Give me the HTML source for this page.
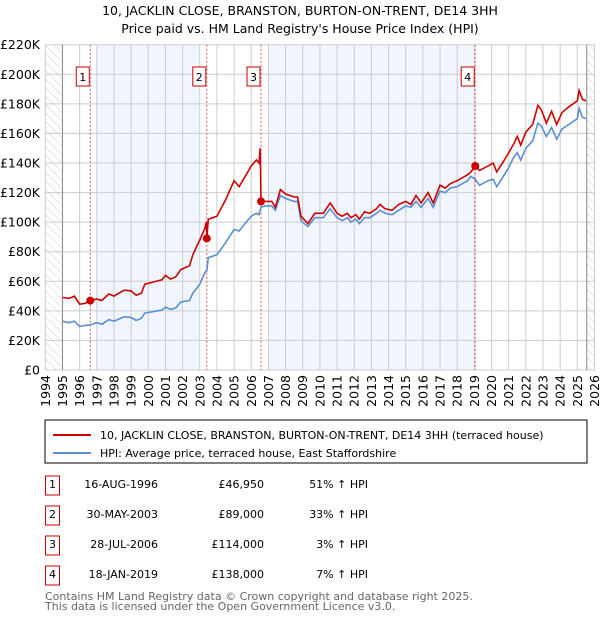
<!DOCTYPE html>
<html><head><meta charset="utf-8"><style>
body{margin:0;background:#fff;font-family:"Liberation Sans","DejaVu Sans",sans-serif;}
#wrap{position:relative;width:600px;height:620px;overflow:hidden;}
</style></head><body>
<div id="wrap">
<svg id="svg" width="600" height="620" xmlns="http://www.w3.org/2000/svg" font-family="DejaVu Sans, Liberation Sans, sans-serif">
<defs>
<pattern id="hatch" width="6" height="6" patternUnits="userSpaceOnUse" patternTransform="rotate(-45)">
<line x1="0" y1="0" x2="0" y2="6" stroke="#ccc" stroke-width="1"/></pattern>
<clipPath id="clip"><rect x="45" y="44" width="550" height="326"/></clipPath>
</defs>
<text x="300" y="15" text-anchor="middle" font-size="12.5" fill="#000">10, JACKLIN CLOSE, BRANSTON, BURTON-ON-TRENT, DE14 3HH</text>
<text x="300" y="33" text-anchor="middle" font-size="12.5" fill="#000">Price paid vs. HM Land Registry's House Price Index (HPI)</text>
<g id="plot"></g>
<g id="legend">
<rect x="45" y="420" width="542" height="43" fill="#fff" stroke="#000" stroke-width="1"/>
<line x1="53" y1="435" x2="91" y2="435" stroke="#cc0000" stroke-width="2"/>
<text x="100" y="439" font-size="11">10, JACKLIN CLOSE, BRANSTON, BURTON-ON-TRENT, DE14 3HH (terraced house)</text>
<line x1="53" y1="453" x2="91" y2="453" stroke="#5b8fd1" stroke-width="2"/>
<text x="100" y="457" font-size="11">HPI: Average price, terraced house, East Staffordshire</text>
</g>
<g id="table"></g>
<text x="45" y="600" font-size="11" fill="#666">Contains HM Land Registry data © Crown copyright and database right 2025.</text>
<text x="45" y="610" font-size="11" fill="#666">This data is licensed under the Open Government Licence v3.0.</text>
</svg>
</div>
<script>
const dates=[1995.0,1995.4,1995.7,1996.0,1996.3,1996.62,1997.0,1997.3,1997.7,1998.0,1998.3,1998.6,1999.0,1999.3,1999.6,1999.8,2000.3,2000.8,2001.0,2001.3,2001.6,2001.9,2002.4,2002.6,2003.0,2003.3,2003.38,2003.41,2003.5,2004.0,2004.5,2005.0,2005.3,2005.7,2006.0,2006.3,2006.45,2006.52,2006.57,2006.8,2007.2,2007.4,2007.7,2008.0,2008.5,2008.7,2008.9,2009.3,2009.7,2010.2,2010.6,2011.0,2011.3,2011.6,2011.8,2012.1,2012.3,2012.6,2012.9,2013.3,2013.5,2013.8,2014.2,2014.6,2015.0,2015.3,2015.6,2015.9,2016.3,2016.6,2017.0,2017.3,2017.6,2018.0,2018.3,2018.6,2018.8,2019.05,2019.3,2019.8,2020.1,2020.3,2020.7,2021.0,2021.3,2021.5,2021.7,2022.0,2022.4,2022.7,2022.9,2023.2,2023.5,2023.8,2024.1,2024.5,2025.0,2025.1,2025.3,2025.5];
const hpiValues=[33,32,33,29.5,30,30.5,32,31,34,33,34.5,36,35.5,33.5,35,38.5,39.5,40.5,42.5,41,42,46,47,52,58,66,67,67,76,78,86,95,94,100,104,106,105,108,110,111,111,108,118,116,114,114,101,97,103,103,109,103,101,103,100,102,99,103,103,106,108,106,105,108,111,110,114,110,116,110,121,120,123,124,126,128,131,129,125,128,129,124,131,137,144,147,142,150,155,167,165,158,164,156,163,166,170,177,171,170];
const priceValues=[49,48.5,50,44.5,45,46.95,48,47,51.5,50,52,54,53.5,50.5,52,58,59.5,61,64,61.5,63,68,70.5,78,88,96,100,89,102,104,115,128,124,132,138,142,140,150,114,114,114,110,122,119,117,117,104,99,106,106,113,106,104,106,103,105,102,107,106,109,112,109,108,112,114,112,118,113,120,113,125,123,126,128,130,132,134,138,135,138,140,134,141,147,153,158,152,161,166,179,176,167,175,166,174,178,182,189,183,182];
const saleDates=[1996.62,2003.41,2006.57,2019.05];
const salePrices=[46.95,89,114,138];
const saleLabels=["1","2","3","4"];
const saleDateText=["16-AUG-1996","30-MAY-2003","28-JUL-2006","18-JAN-2019"];
const salePriceText=["£46,950","£89,000","£114,000","£138,000"];
const saleHpiText=["51% ↑ HPI","33% ↑ HPI","3% ↑ HPI","7% ↑ HPI"];
const yTicks=[0,20,40,60,80,100,120,140,160,180,200,220];
const yTickLabels=["£0","£20K","£40K","£60K","£80K","£100K","£120K","£140K","£160K","£180K","£200K","£220K"];
const xYears=[1994,1995,1996,1997,1998,1999,2000,2001,2002,2003,2004,2005,2006,2007,2008,2009,2010,2011,2012,2013,2014,2015,2016,2017,2018,2019,2020,2021,2022,2023,2024,2025,2026];

const NS="http://www.w3.org/2000/svg";
const X0=45.3,X1=594.5,Y0=370,Y1=44.7;
const xs=y=>X0+(y-1994)/(2026-1994)*(X1-X0);
const ys=v=>Y0-v/220*(Y0-Y1);
const plot=document.getElementById('plot');
function mk(tag,attrs,parent){const e=document.createElementNS(NS,tag);for(const k in attrs)e.setAttribute(k,attrs[k]);(parent||plot).appendChild(e);return e;}

let e;
e=mk('rect',{x:X0,y:Y1,width:X1-X0,height:Y0-Y1,fill:'#fff'});


// shaded ownership periods (whole years between sales)
const s1=Math.ceil(saleDates[0]),e1=Math.floor(saleDates[1]),s2=Math.ceil(saleDates[2]),e2=Math.floor(saleDates[3]);
e=mk('rect',{x:xs(s1),y:Y1,width:xs(e1)-xs(s1),height:Y0-Y1,fill:'#eef3fd',opacity:0.8});


e=mk('rect',{x:xs(s2),y:Y1,width:xs(e2)-xs(s2),height:Y0-Y1,fill:'#eef3fd',opacity:0.8});


e=mk('rect',{x:X0,y:Y1,width:xs(1995)-X0,height:Y0-Y1,fill:'url(#hatch)'});


e=mk('rect',{x:xs(2025.55),y:Y1,width:X1-xs(2025.55),height:Y0-Y1,fill:'url(#hatch)'});


yTicks.forEach((t,i)=>{
  e=mk('line',{x1:X0,x2:X1,y1:ys(t),y2:ys(t),stroke:'#cccccc','stroke-width':1});
  
  
  e=mk('text',{x:40,y:ys(t)+4.5,'text-anchor':'end','font-size':12.5,fill:'#000'});
  e.textContent=yTickLabels[i];
  
  
});
xYears.forEach(yr=>{
  e=mk('line',{x1:xs(yr),x2:xs(yr),y1:Y1,y2:Y0,stroke:'#cccccc','stroke-width':1});
  
  
  e=mk('text',{x:0,y:0,'text-anchor':'end','font-size':12.5,fill:'#000',transform:`translate(${xs(yr)+4.5},${Y0+5}) rotate(-90)`});
  e.textContent=yr;
  
  
});
e=mk('line',{x1:xs(1995),x2:xs(1995),y1:Y1,y2:Y0,stroke:'#888','stroke-width':1});


e=mk('line',{x1:xs(2025.55),x2:xs(2025.55),y1:Y1,y2:Y0,stroke:'#888','stroke-width':1});


saleDates.forEach((d,i)=>{
  e=mk('line',{x1:xs(d),x2:xs(d),y1:Y1,y2:Y0,stroke:'#e05050','stroke-width':1,'stroke-dasharray':'2,2'});
  
  
  e=mk('rect',{x:xs(d)-14,y:67,width:13,height:19,fill:'#fff',stroke:'#cc0000','stroke-width':1});
  
  
  e=mk('text',{x:xs(d)-7.5,y:81,'text-anchor':'middle','font-size':11,fill:'#000'});
  e.textContent=saleLabels[i];
  
  
});
const path=(vals)=>dates.map((d,i)=>(i?'L':'M')+xs(d).toFixed(1)+','+ys(vals[i]).toFixed(1)).join(' ');
e=mk('path',{d:path(hpiValues),fill:'none',stroke:'#5b8fd1','stroke-width':1.6,'clip-path':'url(#clip)'});


e=mk('path',{d:path(priceValues),fill:'none',stroke:'#cc0000','stroke-width':1.6,'clip-path':'url(#clip)'});


saleDates.forEach((d,i)=>{
  e=mk('circle',{cx:xs(d),cy:ys(salePrices[i]),r:4,fill:'#cc0000'});
  
  
});
const tbl=document.getElementById('table');
const rowY=[487,517,547,577];
saleLabels.forEach((l,i)=>{
  const y=rowY[i];
  e=mk('rect',{x:45.5,y:y-11,width:14,height:19,fill:'#fff',stroke:'#cc0000','stroke-width':1},tbl);
  
  
  e=mk('text',{x:52.5,y:y+1,'text-anchor':'middle','font-size':11},tbl);
  e.textContent=l;
  
  
  e=mk('text',{x:158,y:y+1,'text-anchor':'end','font-size':11},tbl);
  e.textContent=saleDateText[i];
  
  
  e=mk('text',{x:264,y:y+1,'text-anchor':'end','font-size':11},tbl);
  e.textContent=salePriceText[i];
  
  
  e=mk('text',{x:368,y:y+1,'text-anchor':'end','font-size':11},tbl);
  e.textContent=saleHpiText[i];
  
  
});
</script>
</body></html>
